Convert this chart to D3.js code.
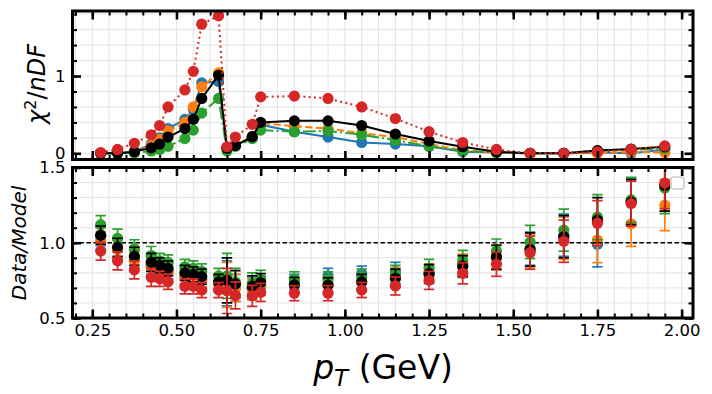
<!DOCTYPE html>
<html><head><meta charset="utf-8">
<script src="https://cdn.jsdelivr.net/npm/d3@7"></script>
<style>body{margin:0;background:#fff} svg{display:block;font-family:"DejaVu Sans",sans-serif}</style>
</head><body><svg id="c" width="712" height="394"></svg>
<script>
// ---- data ----
const pT = [0.275,0.325,0.375,0.425,0.45,0.475,0.525,0.55,0.575,0.625,0.65,0.675,0.725,0.75,0.85,0.95,1.05,1.15,1.25,1.35,1.45,1.55,1.65,1.75,1.85,1.95];

const chi2Blue   = [0.0,0.0,0.02,0.12,0.2,0.32,0.44,0.57,0.91,0.93,0.07,0.1,0.215,0.37,0.28,0.21,0.14,0.12,0.09,0.02,0.01,0.0,0.0,0.01,0.0,0.045];
const chi2Orange = [0.0,0.0,0.02,0.1,0.18,0.29,0.4,0.6,0.86,1.04,0.07,0.1,0.215,0.39,0.35,0.32,0.26,0.21,0.12,0.04,0.01,0.0,0.0,0.0,0.02,0.01];
const chi2Green  = [0.0,0.0,0.005,0.03,0.05,0.09,0.19,0.3,0.52,0.71,0.03,0.09,0.19,0.3,0.28,0.29,0.24,0.17,0.09,0.03,0.01,0.0,0.0,0.035,0.045,0.065];
const chi2Black  = [0.0,0.0,0.02,0.07,0.12,0.21,0.32,0.44,0.71,1.01,0.065,0.1,0.215,0.4,0.42,0.42,0.36,0.25,0.16,0.085,0.02,0.0,0.0,0.035,0.055,0.085];
const chi2Red    = [0.01,0.05,0.13,0.24,0.36,0.6,0.82,1.06,1.67,1.78,0.085,0.21,0.375,0.73,0.74,0.71,0.6,0.45,0.28,0.14,0.05,0.0,0.0,0.02,0.05,0.095];

const ratioBlue   = [1.04,0.96,0.89,0.85,0.83,0.81,0.775,0.77,0.755,0.73,0.73,0.7,0.695,0.72,0.74,0.78,0.795,0.81,0.79,0.84,0.9,0.96,1.05,0.99,1.28,1.38];
const ratioOrange = [1.015,0.955,0.88,0.835,0.82,0.805,0.77,0.765,0.75,0.725,0.72,0.7,0.69,0.71,0.72,0.73,0.74,0.775,0.8,0.855,0.9,0.945,1.03,1.018,1.126,1.25];
const ratioGreen  = [1.12,1.03,0.96,0.915,0.88,0.87,0.84,0.83,0.81,0.78,0.78,0.74,0.73,0.757,0.757,0.757,0.775,0.79,0.83,0.88,0.945,1.005,1.084,1.17,1.285,1.364];
const ratioBlack  = [1.05,0.97,0.91,0.87,0.85,0.83,0.8,0.79,0.775,0.74,0.75,0.725,0.71,0.735,0.72,0.717,0.74,0.764,0.795,0.845,0.905,0.955,1.04,1.15,1.27,1.38];
const ratioRed    = [0.945,0.88,0.82,0.77,0.76,0.74,0.71,0.71,0.685,0.685,0.68,0.65,0.647,0.67,0.665,0.665,0.686,0.713,0.75,0.797,0.857,0.934,1.01,1.13,1.26,1.397];
const ratioErr    = [0.06,0.06,0.06,0.06,0.05,0.05,0.05,0.05,0.05,0.05,0.15,0.09,0.07,0.06,0.05,0.05,0.05,0.06,0.06,0.07,0.08,0.11,0.14,0.15,0.15,0.17];

const seriesNames  = ["blue","orange","green","black","red"];
const seriesColors = ["#1f77b4","#ff7f0e","#2ca02c","#000000","#d62728"];
const seriesDash   = ["none","7.4,3.2","12.8,3.2,2,3.2","none","2,3.3"];
const chi2Series   = [chi2Blue,chi2Orange,chi2Green,chi2Black,chi2Red];
const ratioSeries  = [ratioBlue,ratioOrange,ratioGreen,ratioBlack,ratioRed];

const xMajor = [0.25,0.5,0.75,1.0,1.25,1.5,1.75,2.0];
const xMinor = d3.range(4,41).map(i=>i*0.05);
const topMajor = [0,1];
const topMinor = d3.range(0,10).map(i=>i*0.2);
const botMajor = [0.5,1.0,1.5];
const botMinor = d3.range(5,16).map(i=>i*0.1);

// ---- layout ----
const svg = d3.select("#c");
const x = d3.scaleLinear().domain([0.19125,2.03375]).range([72.5,693]);
const yTop = d3.scaleLinear().domain([-0.080,1.841]).range([159.5,11]);
const yBot = d3.scaleLinear().domain([0.5,1.5]).range([318,167.5]);

function grid(g, y, yMin){
  const [x0,x1]=x.range(), [yb,yt]=y.range();
  g.append("g").selectAll("line").data(xMinor).join("line")
    .attr("x1",d=>x(d)).attr("x2",d=>x(d)).attr("y1",yt).attr("y2",yb)
    .attr("stroke","#e3e3e3").attr("stroke-width",1);
  g.append("g").selectAll("line").data(yMin).join("line")
    .attr("y1",d=>y(d)).attr("y2",d=>y(d)).attr("x1",x0).attr("x2",x1)
    .attr("stroke","#e3e3e3").attr("stroke-width",1);
}

function axis(g, fn, scale, vals, size, sw, tr, fmt, pad){
  const a = fn(scale).tickValues(vals).tickSizeInner(-size).tickSizeOuter(0)
    .tickPadding(pad||4).tickFormat(fmt||(()=>""));
  const ag = g.append("g").attr("transform",tr).call(a);
  ag.select(".domain").remove();
  ag.selectAll(".tick line").attr("stroke","#000").attr("stroke-width",sw);
  ag.selectAll(".tick text").attr("fill","#000").attr("font-size",16.5).attr("font-family","DejaVu Sans");
  return ag;
}

function frame(g, y, yMaj, yMin, yFmt, xFmt){
  const [x0,x1]=x.range(), [yb,yt]=y.range();
  g.append("rect").attr("x",x0).attr("y",yt).attr("width",x1-x0).attr("height",yb-yt)
    .attr("fill","none").attr("stroke","#000").attr("stroke-width",3);
  axis(g,d3.axisBottom,x,xMinor,4.5,2,`translate(0,${yb})`);
  axis(g,d3.axisTop,x,xMinor,4.5,2,`translate(0,${yt})`);
  axis(g,d3.axisLeft,y,yMin,4.5,2,`translate(${x0},0)`);
  axis(g,d3.axisRight,y,yMin,4.5,2,`translate(${x1},0)`);
  axis(g,d3.axisBottom,x,xMajor,8.5,2.6,`translate(0,${yb})`,xFmt,6);
  axis(g,d3.axisTop,x,xMajor,8.5,2.6,`translate(0,${yt})`);
  axis(g,d3.axisLeft,y,yMaj,8.5,2.6,`translate(${x0},0)`,yFmt,7);
  axis(g,d3.axisRight,y,yMaj,8.5,2.6,`translate(${x1},0)`);
}

svg.append("defs").call(d=>{
  [["clipTop",yTop],["clipBot",yBot]].forEach(([id,y])=>{
    const [x0,x1]=x.range(), [yb,yt]=y.range();
    d.append("clipPath").attr("id",id).append("rect").attr("x",x0).attr("y",yt).attr("width",x1-x0).attr("height",yb-yt);
  });
});

// ---- top panel ----
const gTop = svg.append("g");
grid(gTop, yTop, topMinor);
const dTop = gTop.append("g").attr("clip-path","url(#clipTop)");
chi2Series.forEach((vals,i)=>{
  const pts = pT.map((p,j)=>[p,vals[j]]);
  dTop.append("path").datum(pts)
    .attr("d", d3.line().x(d=>x(d[0])).y(d=>yTop(d[1])))
    .attr("fill","none").attr("stroke",seriesColors[i]).attr("stroke-width",2)
    .attr("stroke-dasharray",seriesDash[i]);
  dTop.append("g").selectAll("circle").data(pts).join("circle")
    .attr("cx",d=>x(d[0])).attr("cy",d=>yTop(d[1])).attr("r",5.6)
    .attr("fill",seriesColors[i]);
});
frame(gTop, yTop, topMajor, topMinor, d3.format("d"), null);

// ---- bottom panel ----
const gBot = svg.append("g");
grid(gBot, yBot, botMinor);
const dBot = gBot.append("g").attr("clip-path","url(#clipBot)");
dBot.append("line").attr("x1",x.range()[0]).attr("x2",x.range()[1])
  .attr("y1",yBot(1)).attr("y2",yBot(1)).attr("stroke","#000").attr("stroke-width",1.3)
  .attr("stroke-dasharray","4.5,2.5");
ratioSeries.forEach((vals,i)=>{
  const pts = pT.map((p,j)=>({p, v:vals[j], e:ratioErr[j]}));
  const c = seriesColors[i];
  const g = dBot.append("g");
  g.selectAll(".eb").data(pts).join("line")
    .attr("x1",d=>x(d.p)).attr("x2",d=>x(d.p))
    .attr("y1",d=>yBot(d.v-d.e)).attr("y2",d=>yBot(d.v+d.e))
    .attr("stroke",c).attr("stroke-width",1.7);
  ["lo","hi"].forEach(k=>{
    g.selectAll(".cap"+k).data(pts).join("line")
      .attr("x1",d=>x(d.p)-5.2).attr("x2",d=>x(d.p)+5.2)
      .attr("y1",d=>yBot(k==="lo"?d.v-d.e:d.v+d.e)).attr("y2",d=>yBot(k==="lo"?d.v-d.e:d.v+d.e))
      .attr("stroke",c).attr("stroke-width",1.7);
  });
  g.selectAll("circle").data(pts).join("circle")
    .attr("cx",d=>x(d.p)).attr("cy",d=>yBot(d.v)).attr("r",5.6).attr("fill",c);
});
frame(gBot, yBot, botMajor, botMinor, d3.format(".1f"), d3.format(".2f"));

// empty legend box
gBot.append("rect").attr("x",671).attr("y",177).attr("width",13).attr("height",12).attr("rx",2.5)
  .attr("fill","#fff").attr("fill-opacity",0.8).attr("stroke","#cccccc").attr("stroke-width",1.5);

// ---- axis titles ----
const xt = svg.append("text").attr("x",383).attr("y",379).attr("text-anchor","middle")
  .attr("font-size",33).attr("fill","#000");
xt.append("tspan").attr("font-style","italic").text("p");
xt.append("tspan").attr("font-style","italic").attr("font-size",23).attr("dy",7).text("T");
xt.append("tspan").attr("dy",-7).text(" (GeV)");

const yt1 = svg.append("text").attr("transform","translate(45,84) rotate(-90)")
  .attr("text-anchor","middle").attr("font-size",24).attr("fill","#000");
yt1.append("tspan").attr("font-style","italic").text("χ");
yt1.append("tspan").attr("font-size",16).attr("dy",-9).text("2");
yt1.append("tspan").attr("dy",9).text("/");
yt1.append("tspan").attr("font-style","italic").text("nDF");

svg.append("text").attr("transform","translate(26,243) rotate(-90)")
  .attr("text-anchor","middle").attr("font-size",20).attr("font-style","italic").attr("fill","#000")
  .text("Data/Model");
</script></body></html>
